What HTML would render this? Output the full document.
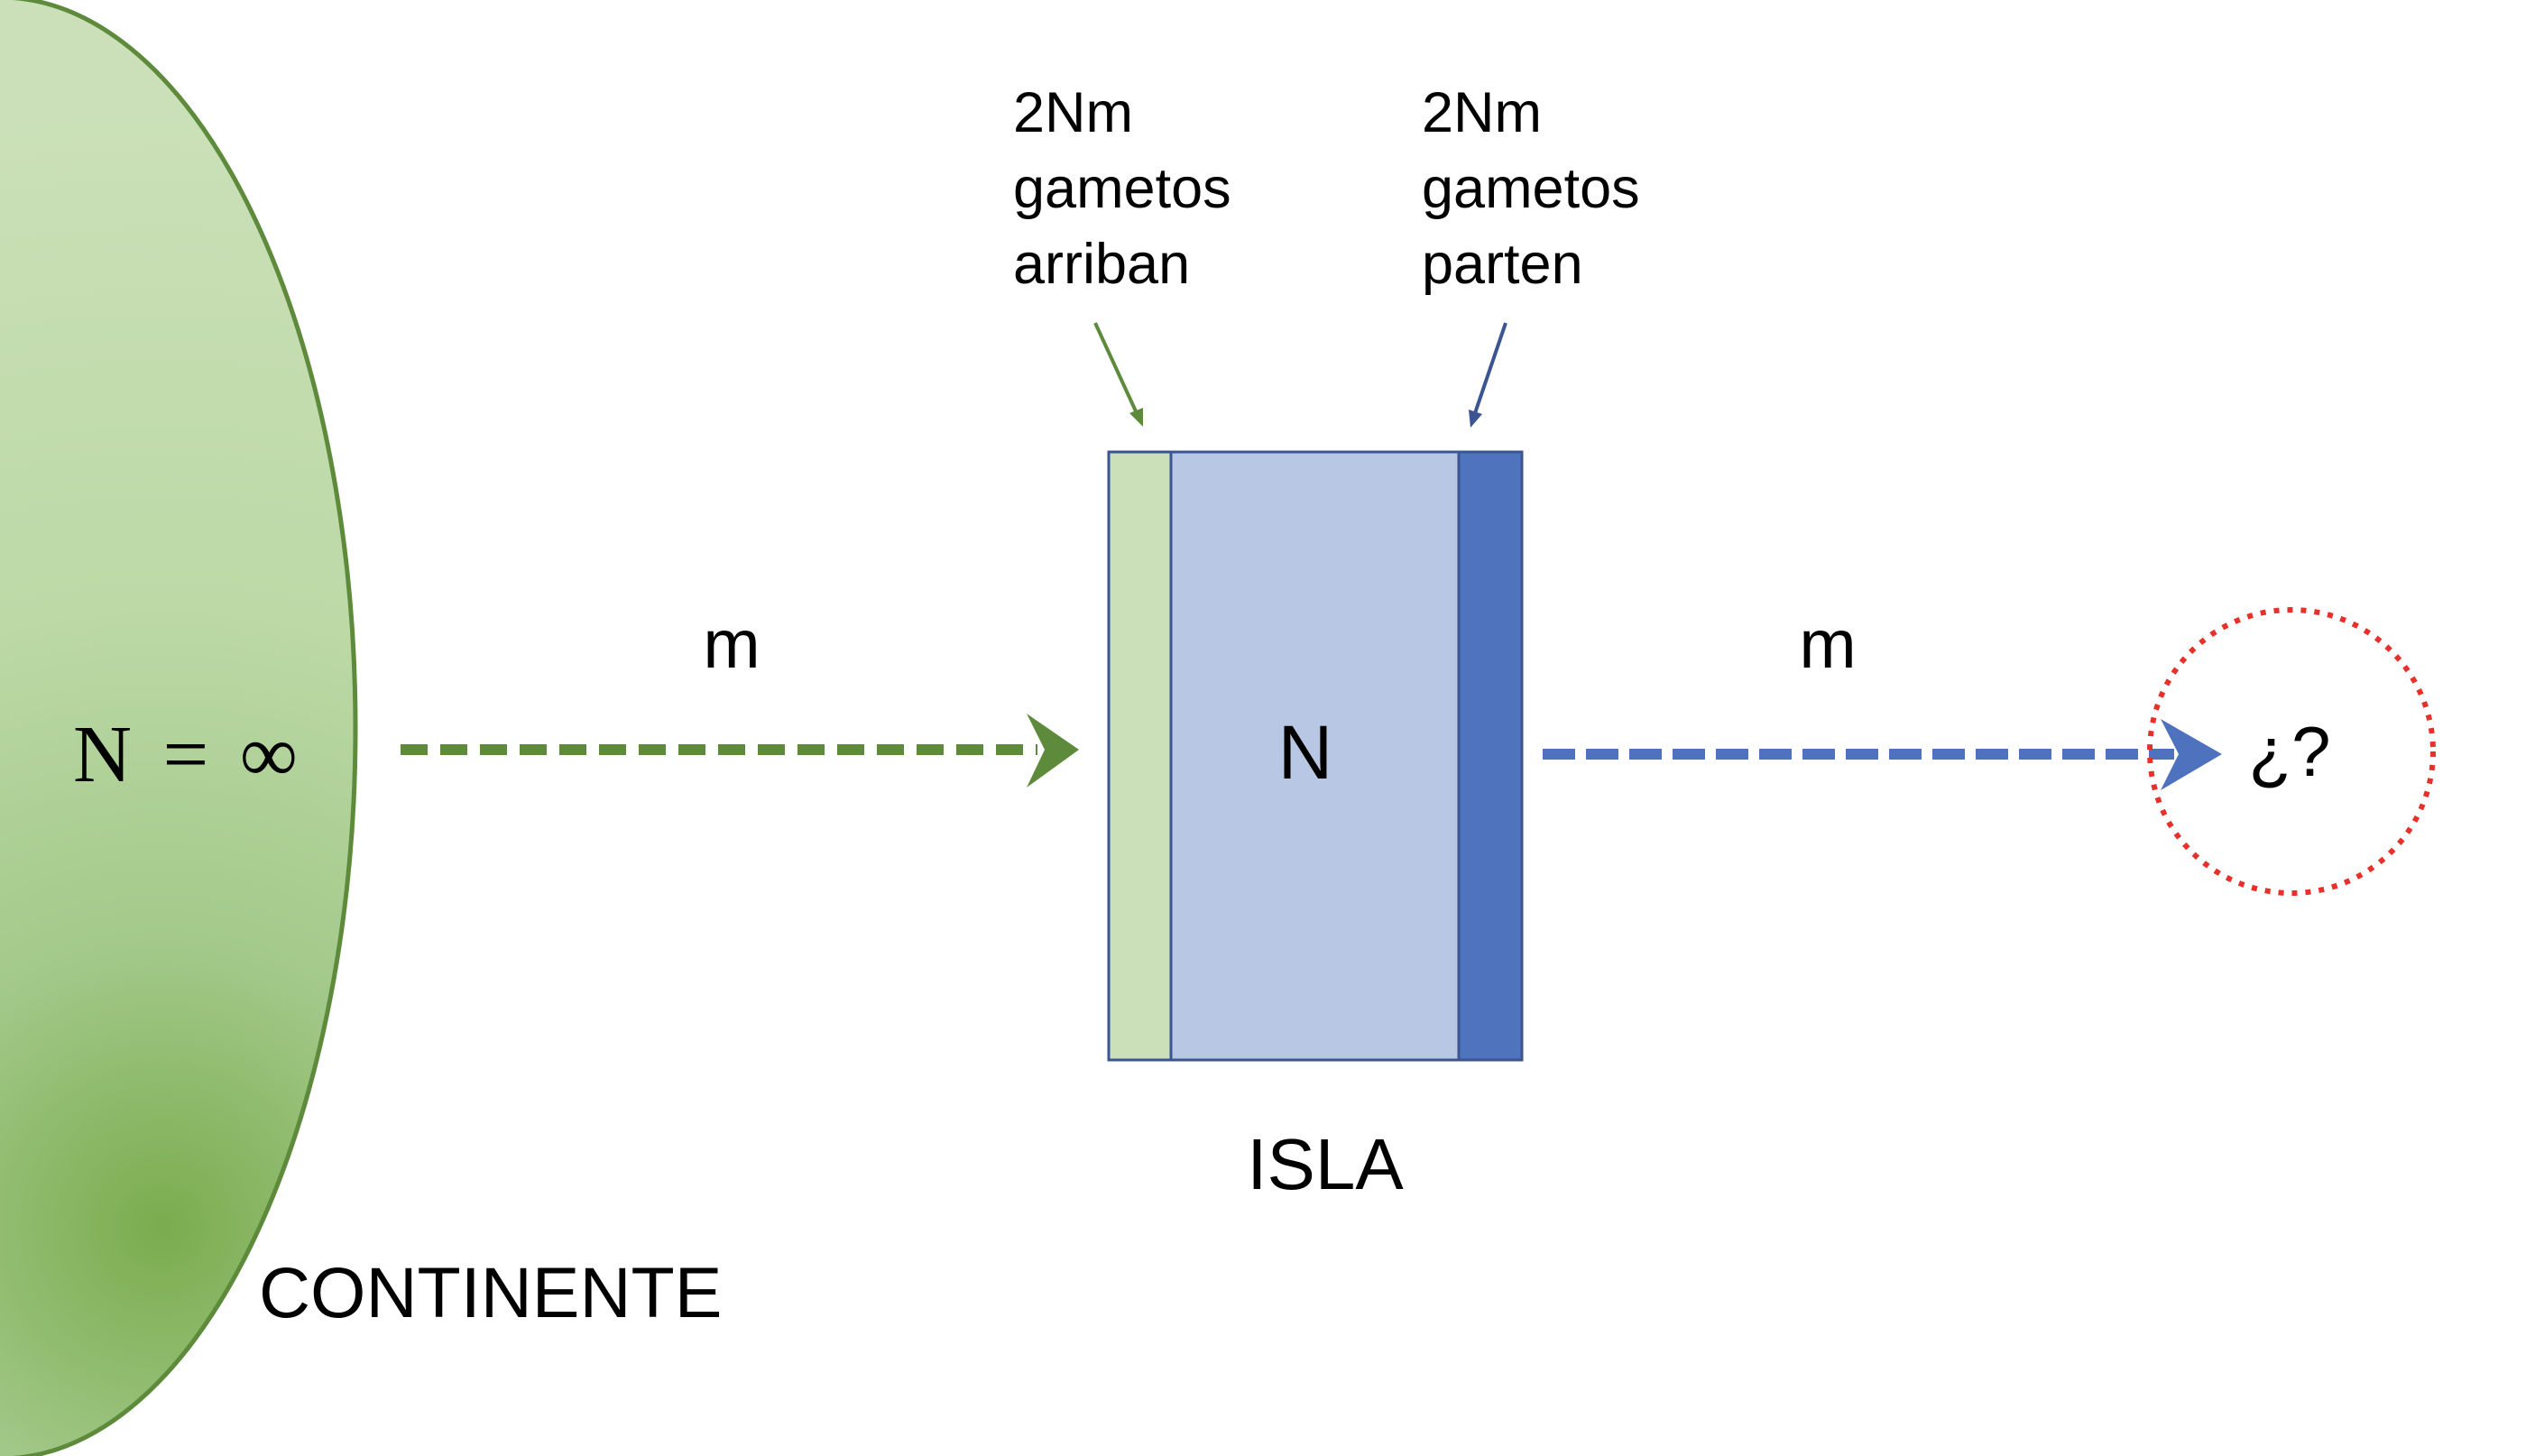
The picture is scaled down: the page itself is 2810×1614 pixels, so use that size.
<!DOCTYPE html>
<html><head><meta charset="utf-8"><style>
html,body{margin:0;padding:0;background:#fff}
svg{display:block}
text{font-family:"Liberation Sans","DejaVu Sans",sans-serif;fill:#000}
</style></head><body>
<svg width="2810" height="1614" viewBox="0 0 2810 1614" xmlns="http://www.w3.org/2000/svg">
<defs>
<radialGradient id="g" cx="180" cy="1360" r="1250" gradientUnits="userSpaceOnUse">
<stop offset="0" stop-color="#7aac4e"/>
<stop offset="0.25" stop-color="#a3c98a"/>
<stop offset="0.55" stop-color="#bcd9a6"/>
<stop offset="1" stop-color="#cbe0b8"/>
</radialGradient>
</defs>
<ellipse cx="0" cy="807" rx="394" ry="810" fill="url(#g)" stroke="#5e8a3c" stroke-width="5"/>
<text x="81" y="866" font-size="90" style="font-family:'Liberation Serif',serif" word-spacing="12">N = ∞</text>
<text x="287" y="1460" font-size="79">CONTINENTE</text>

<!-- green arrow -->
<line x1="444" y1="831" x2="1150" y2="831" stroke="#5e8a3c" stroke-width="12" stroke-dasharray="30,14"/>
<path d="M1138 791 L1196 831 L1138 873 L1158 831 Z" fill="#5e8a3c"/>
<text x="811" y="740" font-size="76" text-anchor="middle">m</text>

<!-- island -->
<rect x="1229" y="501" width="458" height="674" fill="#b8c7e4" stroke="#3a5591" stroke-width="3"/>
<rect x="1229" y="501" width="69" height="674" fill="#cbe0b8" stroke="#3a5591" stroke-width="3"/>
<rect x="1617" y="501" width="70" height="674" fill="#5073be" stroke="#3a5591" stroke-width="3"/>
<text x="1447" y="863" font-size="84" text-anchor="middle">N</text>
<text x="1469" y="1318" font-size="80" text-anchor="middle">ISLA</text>

<!-- blue arrow -->
<line x1="1710" y1="836" x2="2410" y2="836" stroke="#4f72be" stroke-width="12" stroke-dasharray="36,12"/>
<path d="M2395 797 L2463 836 L2395 876 L2415 836 Z" fill="#4f72be"/>
<text x="2026" y="740" font-size="76" text-anchor="middle">m</text>

<circle cx="2540" cy="833" r="157" fill="none" stroke="#e8302a" stroke-width="6" stroke-dasharray="6,9"/>
<text x="2538" y="860" font-size="78" text-anchor="middle">¿?</text>

<!-- top labels -->
<g font-size="63">
<text x="1123" y="146">2Nm</text>
<text x="1123" y="230">gametos</text>
<text x="1123" y="314">arriban</text>
<text x="1576" y="146">2Nm</text>
<text x="1576" y="230">gametos</text>
<text x="1576" y="314">parten</text>
</g>
<line x1="1214" y1="358" x2="1260" y2="458" stroke="#5e8a3c" stroke-width="4"/>
<path d="M1252 458 L1267 473 L1267 452 Z" fill="#5e8a3c"/>
<line x1="1669" y1="358" x2="1635" y2="458" stroke="#3a5591" stroke-width="4"/>
<path d="M1628 454 L1630 474 L1643 459 Z" fill="#3a5591"/>
</svg>
</body></html>
